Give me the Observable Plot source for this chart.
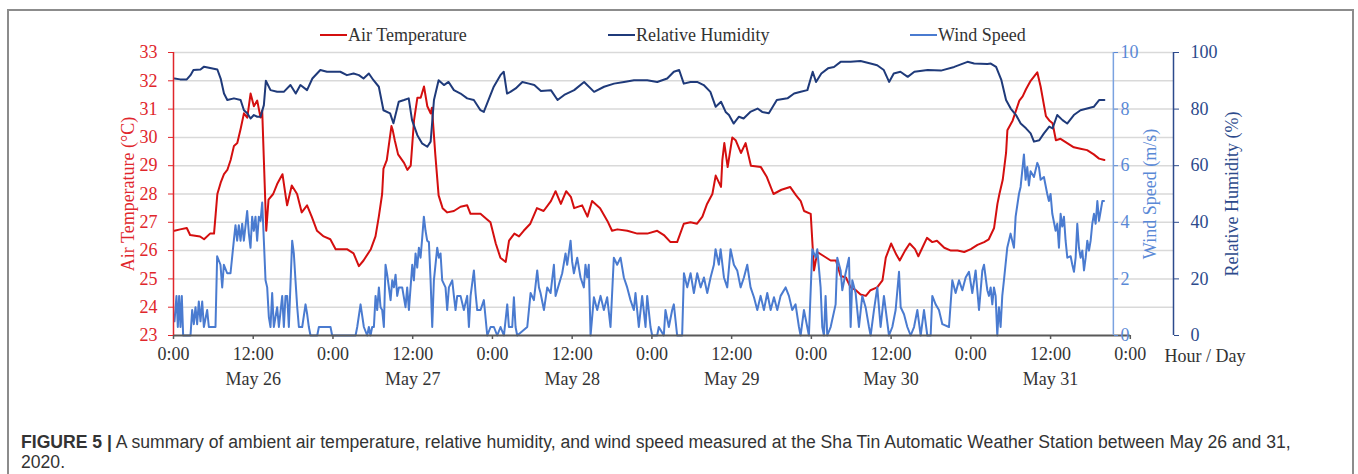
<!DOCTYPE html>
<html><head><meta charset="utf-8">
<script src="https://cdn.jsdelivr.net/npm/d3@7"></script>
<script src="https://cdn.jsdelivr.net/npm/@observablehq/plot@0.6"></script>
<style>
body{margin:0;background:#fff;}
#fig{position:relative;width:1358px;height:474px;overflow:hidden;background:#fff}
#border{position:absolute;left:7px;top:9px;width:1347px;height:480px;border:2px solid #8c8c8c;box-sizing:border-box}
#legend{position:absolute;top:24px;left:0;width:1358px;height:24px;font-family:"Liberation Serif";font-size:18px;color:#333}
.li{position:absolute;top:0;height:22px;display:flex;align-items:center;white-space:nowrap}
.sw{display:inline-block;width:27px;height:2px;margin-right:1px}
#chart{position:absolute;left:0;top:42px}
.cap{position:absolute;left:21px;font-family:"Liberation Sans";font-size:17.6px;color:#333;line-height:19px;white-space:nowrap}
.cap .b{font-weight:bold}
</style></head>
<body>
<div id="fig">
  <div id="border"></div>
  <div id="legend"></div>
  <div id="chart"></div>
  <div class="cap" style="top:433px"><span class="b">FIGURE 5 |</span> A summary of ambient air temperature, relative humidity, and wind speed measured at the Sha Tin Automatic Weather Station between May 26 and 31,</div>
  <div class="cap" style="top:453px">2020.</div>
</div>
<script>
// ---- data (hours since May 26 0:00, value) ----
const seriesNames = ["Air Temperature", "Relative Humidity", "Wind Speed"];
const seriesColors = ["#d40f0f", "#1f3a7a", "#4a7bd0"];

const tempData = [
[0.15,26.7],[1.0,26.75],[2.0,26.8],[2.5,26.55],[4.0,26.5],[4.6,26.4],[5.5,26.6],[6.1,26.6],[6.35,27.3],[6.6,28.0],
[7.1,28.4],[7.6,28.7],[8.1,28.85],[8.6,29.2],[9.1,29.7],[9.6,29.8],[10.1,30.3],[10.6,30.85],[11.1,30.7],[11.6,31.55],
[12.1,31.1],[12.6,31.3],[13.1,30.7],[13.35,30.95],[13.6,29.2],[13.96,26.7],[14.3,27.8],[15.0,28.0],[15.6,28.35],[16.4,28.7],
[16.9,27.9],[17.1,27.6],[17.8,28.3],[18.6,28.0],[19.3,27.35],[20.1,27.6],[20.8,27.2],[21.6,26.7],[22.6,26.5],[23.6,26.4],
[24.4,26.05],[26.1,26.05],[27.1,25.9],[27.9,25.45],[28.6,25.65],[29.7,26.05],[30.4,26.5],[30.9,27.2],[31.4,28.0],[31.6,28.9],
[32.1,29.2],[32.8,30.4],[33.0,30.25],[33.3,29.9],[33.8,29.4],[34.7,29.1],[35.2,28.85],[35.7,29.0],[36.2,30.6],[36.7,31.4],
[37.2,31.4],[37.7,31.8],[38.2,31.1],[38.7,30.85],[38.9,31.05],[39.4,29.4],[39.9,27.95],[40.5,27.5],[41.2,27.35],[42.2,27.4],
[43.2,27.55],[44.2,27.6],[44.7,27.3],[46.2,27.3],[47.2,27.1],[47.7,27.0],[48.5,26.25],[49.2,25.75],[50.0,25.6],[50.5,26.35],
[51.3,26.6],[52.0,26.5],[52.7,26.7],[53.7,26.95],[54.7,27.5],[55.7,27.4],[56.8,27.75],[57.5,28.1],[58.3,27.65],[59.1,28.1],
[59.8,27.9],[60.3,27.5],[61.5,27.6],[62.3,27.2],[63.0,27.75],[64.2,27.5],[65.3,27.05],[66.0,26.7],[66.8,26.75],[68.3,26.7],
[69.8,26.6],[71.3,26.6],[72.8,26.7],[73.8,26.55],[74.8,26.3],[75.8,26.3],[76.8,26.95],[77.8,27.0],[78.8,26.95],[79.6,27.2],
[80.3,27.65],[81.1,28.0],[81.6,28.65],[82.4,28.25],[82.6,29.2],[82.9,29.8],[83.4,28.95],[84.1,30.0],[84.6,29.9],[85.4,29.45],
[86.1,29.8],[86.9,29.0],[88.4,28.95],[89.3,28.6],[90.3,28.0],[91.5,28.15],[92.8,28.25],[93.7,27.95],[94.4,27.75],[94.9,27.4],
[95.9,27.3],[96.2,26.1],[96.4,25.3],[96.9,25.95],[97.9,25.8],[98.9,25.65],[99.7,25.65],[100.4,25.1],[101.2,25.05],[101.9,24.7],
[102.7,24.6],[103.4,24.45],[104.2,24.4],[104.9,24.6],[105.9,24.7],[106.7,24.95],[107.2,25.75],[108.0,26.25],[108.8,25.85],[109.3,25.65],
[110.1,26.0],[110.8,26.25],[111.6,26.05],[112.1,25.8],[112.7,26.1],[113.4,26.45],[114.2,26.3],[114.9,26.35],[116.0,26.1],[117.0,26.0],
[118.0,26.0],[119.0,25.95],[120.0,26.05],[121.0,26.2],[122.0,26.3],[122.7,26.4],[123.5,26.8],[124.0,27.65],[124.3,28.0],[124.8,28.5],
[125.3,29.45],[125.5,30.25],[126.3,30.6],[126.8,30.95],[127.3,31.3],[127.8,31.45],[128.3,31.7],[129.0,32.0],[129.5,32.15],[130.0,32.3],
[130.5,31.8],[131.3,30.75],[131.8,30.6],[132.3,30.5],[132.8,29.9],[133.5,29.95],[134.5,29.8],[135.5,29.65],[136.5,29.6],[137.5,29.55],
[138.5,29.4],[139.3,29.25],[140.1,29.2]
];

const rhData = [
[0.15,90.8],[1.0,90.5],[2.0,90.5],[2.56,92],[3.0,93.8],[4.06,94],[4.6,95],[6.6,94],[7.1,90.8],[7.6,85.5],
[8.1,83.2],[9.1,83.8],[10.1,83.2],[10.6,79.6],[11.1,78.5],[11.6,76.7],[12.1,77.9],[12.6,77.3],[13.1,77.3],[13.6,81.4],
[13.9,90],[14.6,86.7],[15.6,86.1],[16.6,86.1],[17.6,88.5],[18.4,85.5],[19.1,88.5],[20.1,86.7],[20.9,90.8],[22.1,93.8],
[23.1,93.2],[24.1,93.2],[25.1,93.2],[26.1,92],[27.1,92.6],[27.9,92],[28.6,90.8],[29.4,92.6],[30.1,90.2],[30.9,87.9],
[31.6,79.6],[32.6,78.5],[33.1,75],[33.9,82.6],[34.7,83.2],[35.4,83.8],[35.9,76.1],[36.7,70.8],[37.4,67.9],[38.2,66.7],
[38.7,68.5],[39.2,83.2],[39.9,90.2],[40.7,88.5],[41.4,89.6],[42.2,86.7],[43.2,85.5],[44.2,83.8],[45.2,83.2],[46.2,79.6],
[46.7,79],[47.5,83.8],[48.2,87.9],[49.2,92],[49.7,93.2],[50.2,85.5],[50.7,86.1],[51.5,87.3],[52.5,89.6],[53.5,89],
[54.3,88.5],[55.3,86.4],[56.8,86.7],[57.8,83.2],[58.8,85],[60.3,86.7],[61.8,89.6],[63.3,86.1],[64.8,87.9],[66.3,89],
[67.8,89.6],[69.3,90.2],[71.3,90.2],[72.8,89.6],[74.3,90.8],[75.3,93.2],[76.1,93.8],[76.8,89],[77.8,89.6],[78.8,89.6],
[79.8,88.5],[80.8,86.1],[81.6,80.8],[82.4,82.6],[83.1,79],[83.6,77.9],[84.3,74.9],[85.1,77.3],[85.8,76.7],[86.8,79],
[87.9,80.2],[88.6,79],[89.6,78.5],[90.8,83.2],[92.4,83.8],[93.4,85.5],[94.4,86.1],[95.4,86.7],[96.2,93.2],[96.7,89.6],
[97.5,92.6],[98.5,94.4],[99.4,94.9],[100.4,96.7],[101.9,96.7],[103.4,97],[104.9,96.1],[105.9,95.5],[106.9,93.8],[107.7,89.6],
[108.4,92.6],[109.4,93.2],[110.5,91.4],[111.5,93.2],[113.5,93.8],[115.5,93.6],[117.5,94.9],[119.5,96.7],[120.5,96.1],[122.5,95.9],
[123.0,96.1],[123.8,94.9],[124.6,90.2],[125.3,83.2],[126.0,80.2],[126.8,77.9],[127.5,74.9],[128.3,73.2],[129.0,71.4],[129.5,68.5],
[130.3,69],[131.0,71.4],[131.8,73.8],[132.3,73.2],[133.0,77.9],[133.8,76.1],[134.5,74.9],[135.5,77.9],[136.5,79.6],[137.5,80.2],
[138.5,80.8],[139.3,83.2],[140.1,83.2]
];

const windData = [
[0.15,0.5],[0.45,1.4],[0.65,0.3],[0.85,1.4],[1.05,0.3],[1.25,1.4],[1.45,0],[2.56,0],[2.81,0.9],[3.06,0.4],
[3.31,1.0],[3.56,0.4],[3.81,1.2],[4.06,0.5],[4.32,1.2],[4.57,0.3],[5.07,0.9],[5.32,0.3],[6.32,0.3],[6.57,2.8],
[7.07,2.5],[7.33,1.7],[7.58,2.5],[8.08,2.2],[8.58,2.2],[9.08,3.35],[9.33,3.9],[9.58,3.35],[9.83,3.9],[10.09,3.35],
[10.34,3.95],[10.59,3.35],[11.09,4.4],[11.34,3.6],[11.59,3.1],[11.84,4.2],[12.09,3.7],[12.34,4.2],[12.59,3.35],[12.84,4.2],
[13.1,4.05],[13.35,4.7],[13.6,3.35],[13.85,1.95],[14.1,1.7],[14.35,0.65],[14.6,0.3],[14.85,1.5],[15.1,0.3],[15.6,1.0],
[15.86,0.3],[16.36,1.4],[16.61,0.3],[16.86,1.4],[17.11,1.4],[17.36,0.3],[17.86,3.35],[18.11,2.9],[18.36,1.95],[18.62,1.0],
[18.87,0.3],[19.37,0.3],[19.87,1.1],[20.12,0.75],[20.37,0.3],[20.62,0],[21.63,0],[21.88,0.3],[23.13,0.3],[23.63,0.3],
[23.88,0],[27.4,0],[27.65,0.3],[28.15,1.1],[28.65,0.3],[29.15,0],[29.4,0.3],[29.65,0],[29.9,0.3],[30.16,0.3],
[30.41,1.4],[30.66,0.9],[30.91,1.7],[31.16,1.0],[31.41,0.9],[31.66,0.3],[31.91,2.5],[32.16,2.15],[32.67,1.25],[32.92,1.95],
[33.17,1.7],[33.42,2.15],[33.67,1.4],[33.92,1.7],[34.42,1.7],[34.92,1.0],[35.17,1.7],[35.43,0.9],[35.93,2.5],[36.18,1.95],
[36.43,2.9],[36.68,2.4],[36.93,3.1],[37.18,2.75],[37.43,3.45],[37.68,4.2],[37.93,3.7],[38.18,3.35],[38.44,3.3],[38.69,1.95],
[38.94,0.3],[39.19,1.95],[39.69,3.1],[39.94,2.75],[40.19,2.9],[40.44,1.95],[40.94,1.7],[41.19,0.9],[41.45,1.7],[41.95,1.95],
[42.2,1.4],[42.45,0.9],[42.7,1.4],[43.2,1.4],[43.7,0.9],[44.2,1.4],[44.46,0.3],[44.71,1.4],[45.21,2.3],[45.46,1.5],
[45.71,0.9],[46.21,0.9],[46.71,1.25],[47.22,0],[47.72,0.3],[48.22,0.3],[48.72,0],[49.22,0.3],[49.73,0],[50.23,1.1],
[50.48,0.3],[50.98,0.3],[51.23,1.35],[51.48,0.3],[51.73,0],[53.24,0.3],[53.74,1.5],[54.24,1.25],[54.74,2.3],[55.0,1.7],
[55.24,1.5],[55.75,0.9],[56.25,1.7],[56.75,1.5],[57.25,2.5],[57.5,1.4],[58.0,1.8],[58.5,2.2],[59.0,2.9],[59.25,2.5],
[59.76,3.35],[60.0,2.6],[60.26,2.2],[60.76,2.75],[61.26,2.05],[61.76,1.7],[62.0,2.5],[62.26,2.05],[62.5,2.5],[62.77,0],
[63.27,1.35],[63.77,0.9],[64.27,1.4],[64.77,0.9],[65.27,1.35],[65.77,0.3],[66.27,2.75],[66.77,2.5],[67.28,2.75],[67.78,2.05],
[68.28,1.7],[68.78,1.25],[69.28,0.9],[69.53,1.5],[70.03,0.3],[70.53,1.4],[71.04,0.3],[71.29,1.4],[71.79,0.3],[72.04,0],
[72.79,0],[73.04,0.3],[73.79,0],[74.04,0.9],[74.55,0.3],[75.05,0.9],[75.3,1.1],[75.8,0],[76.55,0],[76.82,2.2],
[77.32,1.7],[77.82,2.2],[78.32,1.5],[78.82,2.2],[79.33,1.7],[79.83,2.05],[80.33,1.5],[80.83,2.05],[81.33,2.5],[81.58,3.05],
[82.08,2.5],[82.34,3.05],[82.84,2.05],[83.34,1.7],[83.84,3.05],[84.34,2.5],[84.84,2.3],[85.35,1.7],[85.85,2.05],[86.35,2.5],
[86.85,1.7],[87.36,1.35],[87.86,0.9],[88.36,1.4],[88.86,0.9],[89.36,1.5],[89.87,0.9],[90.37,1.35],[90.87,0.9],[91.37,1.4],
[92.12,1.7],[92.62,1.4],[93.12,0.9],[93.62,1.1],[94.13,0.3],[94.38,0],[94.88,0.9],[95.38,0.3],[95.63,0],[96.14,3.05],
[96.64,2.75],[96.89,3.05],[97.39,1.7],[97.64,0.3],[97.89,0],[98.14,1.4],[98.39,0],[98.9,0.3],[99.65,1.1],[99.9,2.75],
[100.4,2.3],[100.65,1.6],[101.15,2.2],[101.66,2.75],[101.91,0.3],[102.16,1.95],[102.66,1.5],[103.16,0.3],[103.66,1.4],[104.16,1.0],
[104.67,0.3],[104.92,0],[105.42,0.9],[105.92,1.7],[106.42,0.3],[106.92,1.4],[107.68,0],[108.18,0.3],[108.68,0.9],[109.19,2.25],
[109.44,1.0],[109.94,0.75],[110.44,0.3],[110.94,0],[111.45,0.3],[111.95,0.9],[112.45,0],[112.95,0.9],[113.45,0],[113.95,0],
[114.2,1.4],[114.7,1.1],[115.2,0.9],[115.71,0.4],[116.71,0.3],[117.21,1.95],[117.71,1.5],[118.22,1.95],[118.72,1.6],[119.22,2.05],
[119.72,2.25],[120.22,1.5],[120.72,2.3],[121.23,0.9],[121.73,2.3],[121.98,2.5],[122.48,1.6],[122.73,1.4],[122.98,1.7],[123.23,1.1],
[123.48,1.7],[123.73,1.4],[123.98,0],[124.23,1.0],[124.48,0.3],[124.73,1.4],[124.98,1.95],[125.48,3.1],[125.98,3.6],[126.23,3.35],
[126.49,3.1],[126.74,4.2],[127.24,5.0],[127.49,5.25],[127.99,6.4],[128.24,5.5],[128.49,5.95],[128.74,5.3],[128.99,5.8],[129.5,5.6],
[130.0,6.1],[130.25,5.95],[130.5,5.5],[131.0,5.6],[131.5,5.0],[131.75,4.75],[132.0,5.0],[132.26,4.3],[132.76,3.7],[133.01,3.95],
[133.26,3.1],[133.51,4.3],[133.76,3.85],[134.01,4.2],[134.26,3.35],[134.52,2.75],[135.02,2.8],[135.27,2.5],[135.52,2.25],[135.77,2.75],
[136.02,3.95],[136.27,3.1],[136.52,2.75],[136.78,3.0],[137.03,2.3],[137.28,2.75],[137.53,3.35],[137.78,3.0],[138.03,3.35],[138.28,3.95],
[138.53,4.3],[138.78,3.95],[139.04,4.75],[139.29,4.05],[139.54,4.4],[139.79,4.75],[140.04,4.75]
];

// ---- axis ticks / labels ----
const xTicks = [0,12,24,36,48,60,72,84,96,108,120,132,144];
const xTickLabels = ["0:00","12:00","0:00","12:00","0:00","12:00","0:00","12:00","0:00","12:00","0:00","12:00","0:00"];
const dayTicks = [12,36,60,84,108,132];
const dayLabels = ["May 26","May 27","May 28","May 29","May 30","May 31"];
const tempTicks = [23,24,25,26,27,28,29,30,31,32,33];
const windTicks = [0,2,4,6,8,10];
const rhTicks = [0,20,40,60,80,100];

// x extent of the frame (hours) and position of the wind-speed axis
const xEnd = 150.5, windAxisAt = 141.45, lastTick = 144;

// wind (0-10 m/s) and RH (0-100 %) share the 23-33 °C scale
const windOffset = 23, rhScale = 10;

const temp = tempData.map(([h, v]) => ({h, y: v}));
const rh = rhData.map(([h, v]) => ({h, y: windOffset + v / rhScale}));
const wind = windData.map(([h, v]) => ({h, y: windOffset + v}));

const red = "#e0262b", lblue = "#5a89d6", navy = "#2c4a8c", grey = "#595959", txt = "#333";

const plot = Plot.plot({
  width: 1358, height: 360,
  marginLeft: 173, marginRight: 185, marginTop: 10, marginBottom: 67,
  style: {fontFamily: "Liberation Serif", fontSize: "18px", background: "transparent", overflow: "visible"},
  x: {domain: [0, xEnd], axis: null},
  y: {domain: [23, 33], axis: null},
  marks: [
    Plot.gridY(tempTicks.slice(1), {stroke: "#d9d9d9", strokeOpacity: 1, strokeWidth: 1.5}),
    Plot.line(temp, {x: "h", y: "y", stroke: seriesColors[0], strokeWidth: 2}),
    Plot.line(rh, {x: "h", y: "y", stroke: seriesColors[1], strokeWidth: 2}),
    Plot.line(wind, {x: "h", y: "y", stroke: seriesColors[2], strokeWidth: 2}),
    Plot.ruleY([23], {x1: 0, x2: lastTick, stroke: grey, strokeWidth: 2}),
    Plot.ruleX([0], {stroke: red, strokeWidth: 1.5}),
    Plot.ruleX([windAxisAt], {stroke: "#7aa2e0", strokeWidth: 1.5}),
    Plot.ruleX([xEnd], {stroke: navy, strokeWidth: 1.5}),
    Plot.axisX({ticks: xTicks, tickFormat: d => xTickLabels[xTicks.indexOf(d)], tickSize: 4, tickPadding: 8,
      stroke: grey, fill: txt, strokeWidth: 1.5, label: null, fontSize: 18}),
    Plot.axisX({ticks: dayTicks, tickFormat: d => dayLabels[dayTicks.indexOf(d)], tickSize: 0, tickPadding: 37,
      fill: txt, label: null, fontSize: 18}),
    Plot.axisY({ticks: tempTicks, anchor: "left", tickSize: 5, tickPadding: 11, color: red, label: null, fontSize: 18}),
    Plot.axisY({ticks: windTicks.map(v => windOffset + v), anchor: "right", dx: -60,
      tickFormat: d => String(Math.round(d - windOffset)), tickSize: 4, tickPadding: 3, color: lblue, label: null, fontSize: 18}),
    Plot.axisY({ticks: rhTicks.map(v => windOffset + v / rhScale), anchor: "right",
      tickFormat: d => String(Math.round((d - windOffset) * rhScale)), tickSize: 5, tickPadding: 12, color: navy, label: null, fontSize: 18}),
    Plot.text(["Air Temperature (°C)"], {text: d => d, frameAnchor: "left", textAnchor: "middle", rotate: -90, dx: -45, fill: red, fontSize: 18}),
    Plot.text(["Wind Speed (m/s)"], {text: d => d, frameAnchor: "right", textAnchor: "middle", rotate: -90, dx: -23, fill: lblue, fontSize: 18}),
    Plot.text(["Relative Humidity (%)"], {text: d => d, frameAnchor: "right", textAnchor: "middle", rotate: -90, dx: 59, fill: navy, fontSize: 18}),
    Plot.text(["Hour / Day"], {text: d => d, frameAnchor: "bottom-right", textAnchor: "start", lineAnchor: "middle", dx: -9, dy: 21, fill: txt, fontSize: 18})
  ]
});
document.getElementById("chart").appendChild(plot);

// legend
const legendX = [320, 608, 910];
const leg = document.getElementById("legend");
seriesNames.forEach((n, i) => {
  const d = document.createElement("div");
  d.className = "li";
  d.style.left = legendX[i] + "px";
  d.innerHTML = `<span class="sw" style="background:${seriesColors[i]}"></span><span>${n}</span>`;
  leg.appendChild(d);
});
</script>
</body></html>
